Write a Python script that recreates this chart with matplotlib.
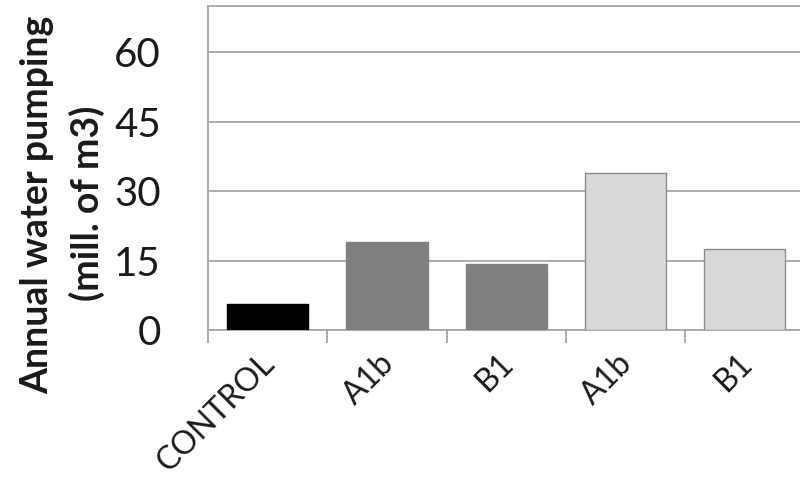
import matplotlib
matplotlib.use("Agg")
import matplotlib.pyplot as plt
import numpy as np

# Annual water pumping by scenario
categories = ["CONTROL", "A1b", "B1", "A1b", "B1"]
values = [5.6, 18.9, 14.2, 33.8, 17.5]
bar_colors = ["#000000", "#808080", "#808080", "#d9d9d9", "#d9d9d9"]
edge_colors = ["#000000", "#808080", "#808080", "#8c8c8c", "#8c8c8c"]
y_ticks = [0, 15, 30, 45, 60]

plt.rcParams["font.family"] = ["Lato", "DejaVu Sans"]

W, H = 800, 480
fig = plt.figure(figsize=(W / 100, H / 100), dpi=100)
ax = fig.add_axes([208 / W, 150 / H, (804.5 - 208) / W, (330 - 5.7) / H])

grid_c = "#a6a6a6"
x = np.arange(len(categories))
ax.bar(x, values, width=0.68, color=bar_colors, edgecolor=edge_colors,
       linewidth=1.0, zorder=3)

ax.set_xlim(-0.5, len(categories) - 0.5)
ax.set_ylim(0, 70)

ax.set_yticks(y_ticks)
ax.set_yticklabels([str(v) for v in y_ticks], fontsize=29, color="#1a1a1a")
ax.tick_params(axis="y", length=0, pad=34)
ax.yaxis.grid(True, color=grid_c, linewidth=1.3, zorder=0)

# category labels at centres, tick marks at category boundaries
ax.set_xticks(x - 0.07)
ax.set_xticklabels(categories, rotation=45, ha="right", va="top",
                   rotation_mode="anchor", fontsize=23, color="#1a1a1a")
ax.tick_params(axis="x", which="major", length=0, pad=13)
ax.set_xticks(np.arange(-0.5, len(categories) - 0.4, 1), minor=True)
ax.tick_params(axis="x", which="minor", length=9, width=1.3, color=grid_c,
               direction="out")

for side in ["left", "top", "bottom"]:
    ax.spines[side].set_color(grid_c)
    ax.spines[side].set_linewidth(1.3)
ax.spines["right"].set_visible(False)

fig.text(37 / W, 1 - 205 / H, "Annual water pumping", rotation=90,
         ha="center", va="center", fontsize=27, fontweight="bold",
         color="#1a1a1a")
fig.text(87 / W, 1 - 203 / H, "(mill. of m3)", rotation=90,
         ha="center", va="center", fontsize=27, fontweight="bold",
         color="#1a1a1a")

fig.savefig("out.png", dpi=100, facecolor="white")
